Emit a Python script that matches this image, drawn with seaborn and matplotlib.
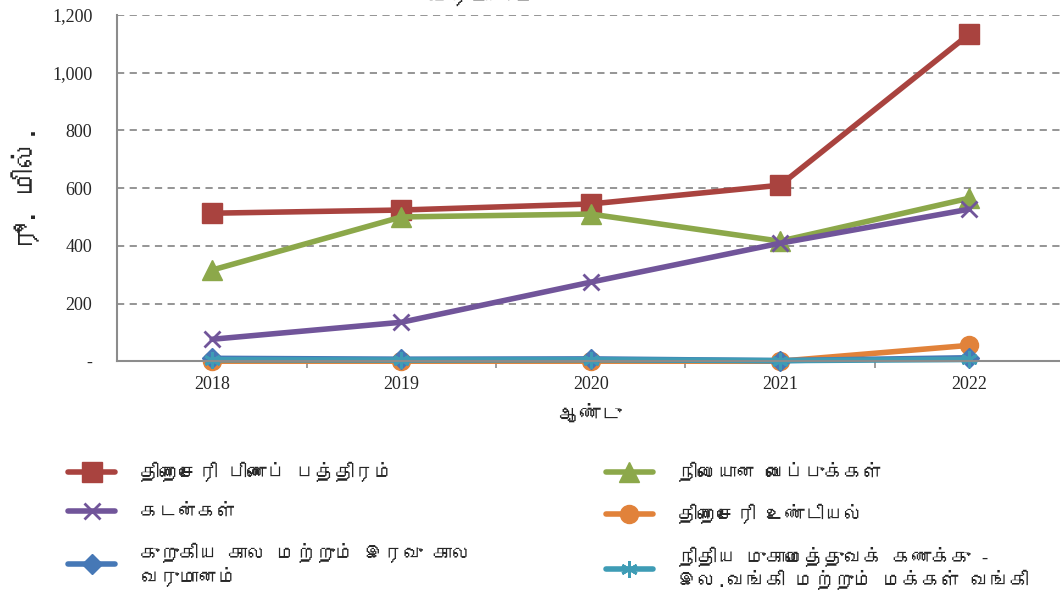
import numpy as np
import pandas as pd
import matplotlib
matplotlib.use("Agg")
import matplotlib.pyplot as plt
from matplotlib import font_manager
from matplotlib.ft2font import FT2Font
from matplotlib.ticker import FuncFormatter, FixedLocator
import seaborn as sns

# ---- data (Rs. million) ----
years = ["2018", "2019", "2020", "2021", "2022"]
treasury_bonds = [513, 524, 545, 610, 1134]
fixed_deposits = [316, 500, 510, 416, 565]
loans = [76, 135, 274, 409, 527]
treasury_bills = [0, 0, 0, 0, 55]
short_overnight = [10, 7, 8, 2, 12]
fin_mgmt_account = [5, 4, 5, 2, 6]

series_names = [
    "திறைசேரி பிணைப் பத்திரம்",
    "நிலையான வைப்புக்கள்",
    "கடன்கள்",
    "திறைசேரி உண்டியல்",
    "குறுகிய கால மற்றும் இரவு கால\nவருமானம்",
    "நிதிய முகாமைத்துவக் கணக்கு -\nஇல.வங்கி மற்றும் மக்கள் வங்கி",
]
series_values = [treasury_bonds, fixed_deposits, loans, treasury_bills,
                 short_overnight, fin_mgmt_account]
colors = ["#A9433F", "#8CA84A", "#71559A", "#E1823A", "#4678B6", "#3E9CB5"]
markers = ["s", "^", "x", "o", "D", (6, 2, 0)]
msizes = [14, 14, 12, 13, 10, 12]

# look for an installed font with Tamil glyphs
tamil_font = None
for fe in font_manager.fontManager.ttflist:
    try:
        if 0x0B95 in FT2Font(fe.fname).get_charmap():
            tamil_font = fe.name
            break
    except Exception:
        pass

sns.set_theme(style="white")
fams = ([tamil_font] if tamil_font else []) + ["Liberation Sans", "DejaVu Sans"]
plt.rcParams["font.family"] = fams

fig = plt.figure(figsize=(10.6, 6.0), dpi=100)
ax = fig.add_axes([0.1108, 0.398, 0.893, 0.577])

x = np.arange(len(years))
handles = []
for name, vals, c, m, ms in zip(series_names, series_values, colors, markers, msizes):
    df = pd.DataFrame({"year": x, "value": vals})
    sns.lineplot(data=df, x="year", y="value", ax=ax, color=c, lw=4,
                 marker=m, markersize=ms, markeredgecolor=c,
                 markeredgewidth=2 if m in ("x", (6, 2, 0)) else 1,
                 label=name, legend=False, clip_on=False)
    handles.append(ax.lines[-1])

ax.set_xlim(-0.5, len(years) - 0.5)
ax.set_ylim(0, 1200)
ax.set_xticks(x)
ax.set_xticklabels(years)
ax.xaxis.set_minor_locator(FixedLocator(np.arange(0.5, len(years) - 1, 1)))
ax.set_yticks(np.arange(0, 1201, 200))
ax.yaxis.set_major_formatter(FuncFormatter(lambda v, p: "-" if v == 0 else f"{int(v):,}"))

for lab in ax.get_xticklabels() + ax.get_yticklabels():
    lab.set_fontfamily(["Liberation Serif", "DejaVu Serif"])
    lab.set_fontsize(13)

ax.grid(axis="y", color="#8C8C8C", linestyle=(0, (4, 3)), lw=1.3)
ax.set_axisbelow(True)
for s in ["top", "right"]:
    ax.spines[s].set_visible(False)
for s in ["left", "bottom"]:
    ax.spines[s].set_color("#8C8C8C")
    ax.spines[s].set_linewidth(1.5)
ax.tick_params(axis="y", which="major", direction="inout", length=8, color="#8C8C8C", width=1.2, pad=14)
ax.tick_params(axis="x", which="major", length=0, pad=11)
ax.tick_params(axis="x", which="minor", direction="out", length=5, color="#8C8C8C", width=1.2, bottom=True)

ax.set_xlabel("ஆண்டு", fontsize=15, labelpad=8)
ax.set_ylabel("ரூ. மில்.", fontsize=20, fontweight="bold")
ax.yaxis.set_label_coords(-0.082, 0.5)

# title cut at the top of the image, as in the source
fig.text(0.455, 0.993, "வருமானம்", fontsize=16, fontweight="bold", ha="center", va="baseline")

order = [0, 2, 4, 1, 3, 5]
fig.legend([handles[i] for i in order], [series_names[i] for i in order],
           loc="upper left", bbox_to_anchor=(0.048, 0.26), ncol=2, frameon=False,
           fontsize=14, handlelength=2.4, handletextpad=1.3, columnspacing=6.9,
           labelspacing=1.15)

fig.savefig("out.png", dpi=100)
